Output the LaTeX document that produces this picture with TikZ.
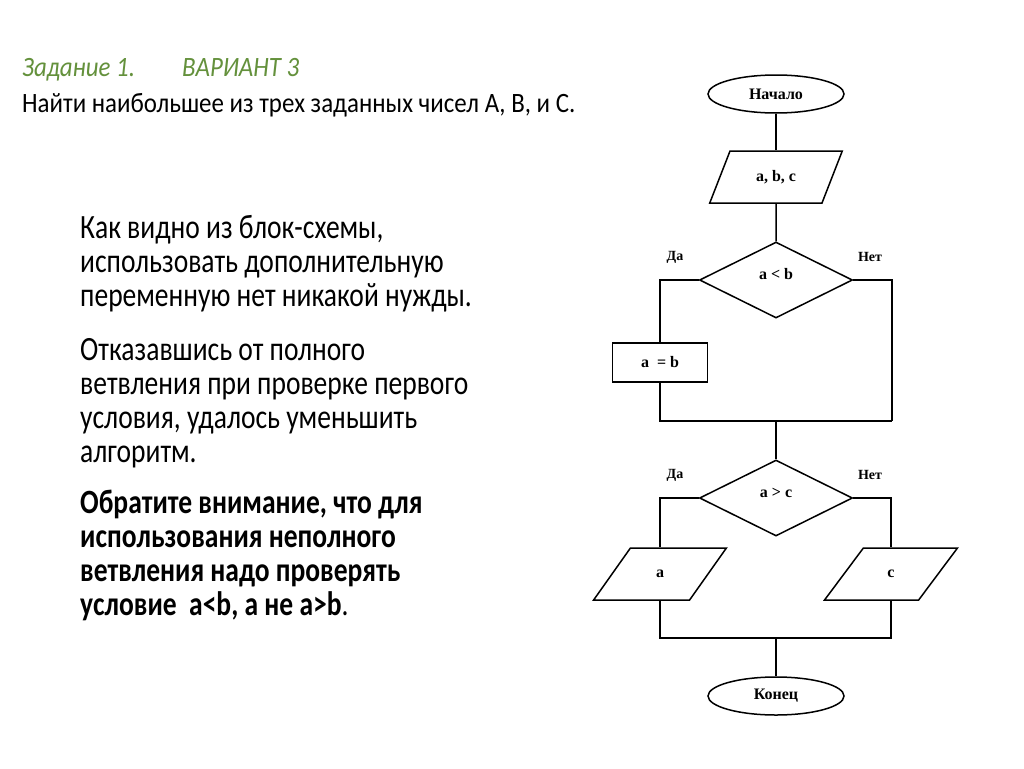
\documentclass[tikz,border=0pt]{standalone}
\usepackage{fontspec}
\setmainfont{Carlito}
\newfontfamily\bodyfont[FakeStretch=0.81]{Carlito}
\newfontfamily\titlefont[FakeStretch=0.89]{Carlito}
\newfontfamily\chartfont{Liberation Serif}
\usetikzlibrary{shapes.geometric}
\definecolor{titlegreen}{RGB}{100,145,60}
\begin{document}
\begin{tikzpicture}[x=1pt,y=-1pt,
  flow/.style={draw, line width=1.5pt, font=\chartfont\bfseries\fontsize{16}{18}\selectfont, inner sep=0pt},
  term/.style={flow, ellipse, minimum width=136pt, minimum height=38pt},
  io/.style={flow, trapezium, trapezium left angle=57, trapezium right angle=123, trapezium stretches=true, minimum width=133pt, minimum height=52pt},
  dec/.style={flow, diamond, minimum width=153pt, minimum height=76pt, text height=7pt, text depth=8pt},
  proc/.style={flow, rectangle, minimum width=95pt, minimum height=39pt},
  conn/.style={line width=1.5pt},
  lbl/.style={font=\chartfont\bfseries\fontsize{14}{16}\selectfont, inner sep=0pt},
  title/.style={anchor=base west, inner sep=0pt, text=titlegreen, font=\titlefont\itshape\fontsize{28}{30}\selectfont},
  head/.style={anchor=base west, inner sep=0pt, font=\titlefont\fontsize{28}{30}\selectfont},
  body/.style={anchor=base west, inner sep=0pt, font=\bodyfont\fontsize{34}{36}\selectfont},
  bodyb/.style={body, font=\bodyfont\bfseries\fontsize{34}{36}\selectfont}
]
\useasboundingbox[fill=white] (0,0) rectangle (1024,768);

% titles
\node[title] (t1) at (22,77) {Задание 1.};
\node[title] (t2) at (182,77) {ВАРИАНТ 3};
\node[head] (t3) at (22,112) {Найти наибольшее из трех заданных чисел А, В, и С.};

% body text
\node[body] (p1a) at (80,238) {Как видно из блок-схемы,};
\node[body] (p1b) at (80,272) {использовать дополнительную};
\node[body] (p1c) at (80,306) {переменную нет никакой нужды.};
\node[body] (p2a) at (80,360) {Отказавшись от полного};
\node[body] (p2b) at (80,394) {ветвления при проверке первого};
\node[body] (p2c) at (80,428) {условия, удалось уменьшить};
\node[body] (p2d) at (80,462) {алгоритм.};
\node[bodyb] (p3a) at (80,513) {Обратите внимание, что для};
\node[bodyb] (p3b) at (80,547) {использования неполного};
\node[bodyb] (p3c) at (80,581) {ветвления надо проверять};
\node[bodyb] (p3d) at (80,615) {условие\ \ a<b, а не a>b{\mdseries.}};

% flowchart
\node[term] (start) at (776,94) {Начало};
\node[io] (in) at (776,177) {a, b, c};
\node[dec] (d1) at (776,280) {a < b};
\node[proc] (ab) at (660,362.5) {a\ \ = b};
\coordinate (m1) at (776,421);
\coordinate (r1) at (892,421);
\node[dec] (d2) at (776,498) {a > c};
\node[io] (oa) at (660,574) {a};
\node[io] (oc) at (891,574) {c};
\coordinate (m2) at (776,638);
\node[term] (fin) at (776,696) {Конец};

\node[lbl] (y1) at (675,257) {Да};
\node[lbl] (n1) at (870,257) {Нет};
\node[lbl] (y2) at (675,475) {Да};
\node[lbl] (n2) at (870,475) {Нет};

\draw[conn] (start) -- (in);
\draw[conn] (in) -- (d1);
\draw[conn] (d1.west) -| (ab.north);
\draw[conn] (d1.east) -| (r1);
\draw[conn] (ab.south) |- (r1);
\draw[conn] (m1) -- (d2.north);
\draw[conn] (d2.west) -| (oa.north);
\draw[conn] (d2.east) -| (oc.north);
\draw[conn] (oa.south) |- (m2) -| (oc.south);
\draw[conn] (m2) -- (fin);
\end{tikzpicture}
\end{document}
